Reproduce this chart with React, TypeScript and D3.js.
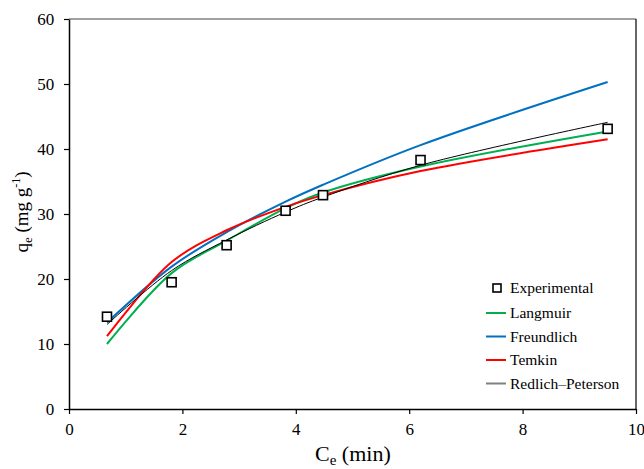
import { useEffect, useRef } from 'react'
import * as d3 from 'd3'

// equilibrium concentration (x) and experimental uptake
const ceValues = [0.67, 1.81, 2.78, 3.82, 4.48, 6.2, 9.5]
const experimental = [14.2, 19.5, 25.2, 30.5, 32.9, 38.3, 43.1]

// model fits at the same x points
const langmuir = [10.0, 20.9, 25.9, 30.9, 33.3, 37.3, 42.7]
const freundlich = [13.3, 21.9, 27.2, 31.9, 34.5, 40.6, 50.3]
const temkin = [11.2, 22.6, 27.5, 31.1, 32.9, 36.6, 41.5]
const redlichPeterson = [13.0, 21.3, 26.0, 30.3, 32.6, 37.5, 44.1]

const xTicks = [0, 2, 4, 6, 8, 10]
const yTicks = [0, 10, 20, 30, 40, 50, 60]

const models = [
  { name: 'Langmuir', values: langmuir, color: '#00b050', width: 2, legendColor: '#00b050' },
  { name: 'Freundlich', values: freundlich, color: '#0070c0', width: 2, legendColor: '#0070c0' },
  { name: 'Temkin', values: temkin, color: '#ff0000', width: 2, legendColor: '#ff0000' },
  { name: 'Redlich\u2013Peterson', values: redlichPeterson, color: '#000000', width: 1, legendColor: '#808080' },
]

const W = 644
const H = 469
const FONT = "'Liberation Serif', 'Times New Roman', serif"

export default function App() {
  const svgRef = useRef<SVGSVGElement>(null)

  useEffect(() => {
    if (!svgRef.current) return
    const margin = { top: 19, right: 8, bottom: 60, left: 69 }
    const innerW = W - margin.left - margin.right
    const innerH = H - margin.top - margin.bottom

    const svg = d3.select(svgRef.current)
    svg.selectAll('*').remove()

    const g = svg.append('g').attr('transform', `translate(${margin.left},${margin.top})`)

    const x = d3.scaleLinear().domain([0, 10]).range([0, innerW])
    const y = d3.scaleLinear().domain([0, 60]).range([innerH, 0])

    // frame: top gray, right black
    g.append('line').attr('x1', 0).attr('x2', innerW).attr('y1', 0).attr('y2', 0)
      .attr('stroke', '#808080').attr('stroke-width', 1.5)
    g.append('line').attr('x1', innerW).attr('x2', innerW).attr('y1', 0).attr('y2', innerH)
      .attr('stroke', '#000').attr('stroke-width', 1.2)

    // X axis
    const xAxis = g.append('g')
      .attr('transform', `translate(0,${innerH})`)
      .call(d3.axisBottom(x).tickValues(xTicks).tickSize(5).tickSizeOuter(0).tickFormat(d3.format('d')))
    xAxis.attr('font-family', null)
    xAxis.select('.domain').attr('stroke', '#000').attr('stroke-width', 1.5)
    xAxis.selectAll('line').attr('stroke', '#000').attr('stroke-width', 1.2)
    xAxis.selectAll('text').style('font-family', FONT).style('font-size', '17px').attr('fill', '#000').attr('dy', '1.05em')

    // Y axis
    const yAxis = g.append('g')
      .call(d3.axisLeft(y).tickValues(yTicks).tickSize(5).tickSizeOuter(0).tickFormat(d3.format('d')))
    yAxis.attr('font-family', null)
    yAxis.select('.domain').attr('stroke', '#000').attr('stroke-width', 1.5)
    yAxis.selectAll('line').attr('stroke', '#000').attr('stroke-width', 1.2)
    yAxis.selectAll('text').style('font-family', FONT).style('font-size', '17px').attr('fill', '#000').attr('dx', '-0.4em')

    // model curves
    const idx = d3.range(ceValues.length)
    models.forEach(m => {
      const line = d3.line<number>()
        .x(i => x(ceValues[i]))
        .y(i => y(m.values[i]))
        .curve(d3.curveCatmullRom.alpha(0.5))
      g.append('path').datum(idx)
        .attr('fill', 'none')
        .attr('stroke', m.color)
        .attr('stroke-width', m.width)
        .attr('d', line)
    })

    // experimental points
    const s = 9
    g.selectAll('rect.pt').data(idx).enter().append('rect')
      .attr('class', 'pt')
      .attr('x', i => x(ceValues[i]) - s / 2)
      .attr('y', i => y(experimental[i]) - s / 2)
      .attr('width', s).attr('height', s)
      .attr('fill', 'white').attr('stroke', '#000').attr('stroke-width', 1.6)

    // axis titles
    const xt = svg.append('text')
      .attr('x', 315).attr('y', 461)
      .style('font-family', FONT).style('font-size', '22px').attr('fill', '#000')
    xt.append('tspan').text('C')
    xt.append('tspan').style('font-size', '15px').attr('dy', 4).text('e')
    xt.append('tspan').attr('dy', -4).text(' (min)')

    const yt = svg.append('text')
      .attr('transform', 'translate(28,212) rotate(-90)')
      .attr('text-anchor', 'middle')
      .style('font-family', FONT).style('font-size', '19px').attr('fill', '#000')
    yt.append('tspan').text('q')
    yt.append('tspan').style('font-size', '13px').attr('dy', 4).text('e')
    yt.append('tspan').attr('dy', -4).text(' (mg g')
    yt.append('tspan').style('font-size', '12px').attr('dy', -8).text('-1')
    yt.append('tspan').attr('dy', 8).text(')')

    // legend
    const legend = svg.append('g').attr('transform', 'translate(486,288)')
    legend.append('rect').attr('x', 7).attr('y', -4).attr('width', 8).attr('height', 8)
      .attr('fill', 'white').attr('stroke', '#000').attr('stroke-width', 1.6)
    legend.append('text').attr('x', 24).attr('y', 5)
      .style('font-family', FONT).style('font-size', '15.5px').attr('fill', '#000').text('Experimental')
    models.forEach((m, i) => {
      const ly = 25 + i * 23.5
      legend.append('line').attr('x1', 0).attr('x2', 20).attr('y1', ly).attr('y2', ly)
        .attr('stroke', m.legendColor).attr('stroke-width', 2)
      legend.append('text').attr('x', 24).attr('y', ly + 5)
        .style('font-family', FONT).style('font-size', '15.5px').attr('fill', '#000').text(m.name)
    })
  }, [])

  return (
    <svg ref={svgRef} width={W} height={H}
      style={{ position: 'absolute', left: 0, top: 0, background: 'white' }} />
  )
}
